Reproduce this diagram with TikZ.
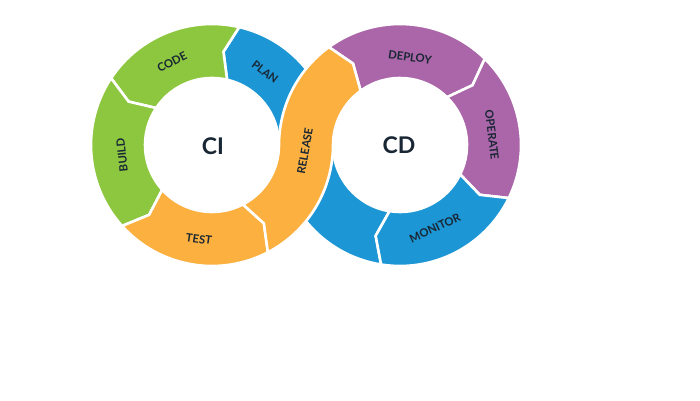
\documentclass[tikz,border=0pt]{standalone}
\usepackage{fontspec}
\setmainfont{Lato}
\usetikzlibrary{calc}
\definecolor{cgreen}{RGB}{141,198,63}
\definecolor{cblue}{RGB}{28,150,212}
\definecolor{corange}{RGB}{251,176,64}
\definecolor{cpurple}{RGB}{170,102,168}
\definecolor{ctext}{RGB}{25,38,52}
\newcommand\Ro{121}
\newcommand\Ri{67}
\newcommand\Rm{94}
% #1 centre, #2 start angle (tail), #3 end angle (head), #4 chevron offset, #5 colour
\newcommand\ringseg[5]{%
  \filldraw[seg,fill=#5,shift={(#1)}] (#2:\Ro) arc[start angle=#2,end angle=#3,radius=\Ro]
    -- ({#3+#4}:\Rm) -- (#3:\Ri) arc[start angle=#3,end angle=#2,radius=\Ri]
    -- ({#2+#4}:\Rm) -- cycle;}
\begin{document}
\begin{tikzpicture}[x=1pt,y=1pt,
  seg/.style={draw=white,line width=2.6pt,line join=miter},
  lbl/.style={font=\bfseries\fontsize{11.3}{13}\selectfont,text=ctext,inner sep=0pt},
  big/.style={font=\bfseries\fontsize{23}{26}\selectfont,text=ctext,inner sep=0pt}]
\useasboundingbox[fill=white] (0,0) rectangle (700,400);
\coordinate (ci) at (212,255);
\coordinate (cd) at (400,255);
% PLAN
\filldraw[seg,fill=cblue,shift={(ci)}] (0:\Ro) arc[start angle=0,end angle=77,radius=\Ro]
  -- (83:\Rm) -- (77:\Ri) arc[start angle=77,end angle=0,radius=\Ri] -- cycle;
\ringseg{ci}{77}{146.5}{6}{cgreen}
\ringseg{ci}{146.5}{222}{6}{cgreen}
\ringseg{ci}{222}{297.5}{6}{corange}
% CD blue (after MONITOR)
\filldraw[seg,fill=cblue,shift={(cd)}] (261:\Ro) arc[start angle=261,end angle=180,radius=\Ro]
  -- (180:\Ri) arc[start angle=180,end angle=261,radius=\Ri] -- (255:\Rm) -- cycle;
\ringseg{cd}{126}{45.5}{-6}{cpurple}
\ringseg{cd}{45.5}{-26}{-6}{cpurple}
\ringseg{cd}{-26}{-99}{-6}{cblue}
% RELEASE
\filldraw[seg,fill=corange] ($(ci)+(297.5:\Ro)$) arc[start angle=297.5,end angle=360,radius=\Ro]
  arc[start angle=180,end angle=126,radius=\Ri] -- ($(cd)+(120:\Rm)$) -- ($(cd)+(126:\Ro)$)
  arc[start angle=126,end angle=180,radius=\Ro] arc[start angle=360,end angle=297.5,radius=\Ri]
  -- ($(ci)+(303.5:\Rm)$) -- cycle;
% labels
\node[lbl,rotate=27] (code) at (172,338) {CODE};
\node[lbl,rotate=-37] (plan) at (265,328) {PLAN};
\node[lbl,rotate=96] (build) at (122,245) {BUILD};
\node[lbl,rotate=-8] (test) at (199,161) {TEST};
\node[lbl,rotate=80] (release) at (305,249) {RELEASE};
\node[lbl,rotate=-8] (deploy) at (410,343) {DEPLOY};
\node[lbl,rotate=-83] (operate) at (492,265) {OPERATE};
\node[lbl,rotate=25] (monitor) at (435,172) {MONITOR};
\node[big] (cilbl) at (213,254) {CI};
\node[big] (cdlbl) at (399,255) {CD};
\end{tikzpicture}
\end{document}
